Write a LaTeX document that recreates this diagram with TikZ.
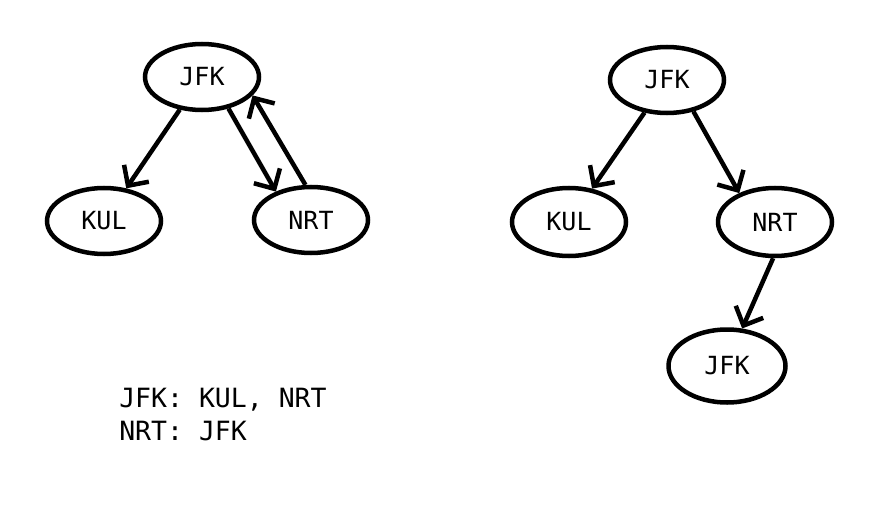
\documentclass[tikz,border=0pt]{standalone}
\usepackage{fontspec}
\setmonofont{DejaVu Sans Mono}
\usetikzlibrary{shapes.geometric,arrows.meta}

\begin{document}
\begin{tikzpicture}[x=1pt,y=-1pt,line width=4.5pt,
    airport/.style={draw,ellipse,minimum width=114pt,minimum height=66pt,inner sep=0pt,
        font=\ttfamily\fontsize{25}{33}\selectfont},
    flight/.style={-{Straight Barb[length=15pt,width=30pt]}}]
    \useasboundingbox (0,0) rectangle (875,508);

    \node [airport] (jfkL) at (202,77) {JFK};
    \node [airport] (kulL) at (104,221) {KUL};
    \node [airport] (nrtL) at (311,220) {NRT};

    \draw [flight] (jfkL) -- (kulL);
    \draw [flight] (jfkL.-50) -- (nrtL.141);
    \draw [flight] (nrtL.99) -- (jfkL.-20);

    \node [anchor=north west,inner sep=0pt,align=left,
        font=\ttfamily\fontsize{26.5}{33}\selectfont] (list) at (117,386)
        {JFK: KUL, NRT\\NRT: JFK};

    \node [airport] (jfkR) at (667,80) {JFK};
    \node [airport,minimum height=68pt] (kulR) at (569,222) {KUL};
    \node [airport,minimum height=68pt] (nrtR) at (775,222) {NRT};
    \node [airport,minimum width=117pt,minimum height=73pt] (jfkR2) at (727,366) {JFK};

    \draw [flight] (jfkR) -- (kulR);
    \draw [flight] (jfkR.-50) -- (nrtR.141);
    \draw [flight] (nrtR.-93) -- (jfkR2.68);
\end{tikzpicture}
\end{document}
